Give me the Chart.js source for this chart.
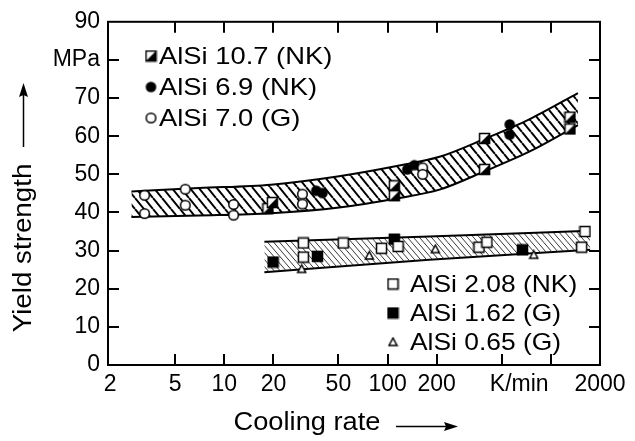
<!DOCTYPE html>
<html>
<head>
<meta charset="utf-8">
<script src="https://cdn.jsdelivr.net/npm/chart.js@4"></script>
<style>
  html, body { margin: 0; background: #fff; }
  #wrap { position: relative; width: 635px; height: 441px; }
</style>
</head>
<body>
<div id="wrap"><canvas id="c"></canvas></div>
<script>
// ---- data ----
const xTickValues = [2, 5, 10, 20, 50, 100, 200, 640, 2000];
const xTickLabels = ['2', '5', '10', '20', '50', '100', '200', 'K/min', '2000'];
const xTickMarks = [5, 10, 20, 50, 100, 200, 500, 1000];
const yTickValues = [0, 10, 20, 30, 40, 50, 60, 70, 80, 90];
const yTickLabels = ['0', '10', '20', '30', '40', '50', '60', '70', 'MPa', '90'];
const yTickMarks = [10, 20, 30, 40, 50, 60, 70, 80];

// scatter band (upper) – boundary lines
const upperBandX = [2.7, 7.0, 19.3, 50.5, 118, 208, 393, 743, 1465];
const upperBandTop = [45.5, 46.4, 47.3, 49.5, 52.3, 54.6, 59.3, 64.5, 71.3];
const upperBandBottom = [38.8, 39.2, 39.8, 41.3, 43.8, 46.0, 50.8, 56.0, 62.9];
// scatter band (lower)
const lowerBandX = [17.6, 180, 1740];
const lowerBandTop = [32.3, 33.7, 35.2];
const lowerBandBottom = [24.3, 27.6, 30.2];

const alsi107X = [18.5, 19.7, 110, 110, 393, 393, 1309, 1309];
const alsi107Y = [41.0, 42.6, 47.0, 44.4, 59.4, 51.3, 65.0, 61.9];
const alsi69X = [36.6, 39.9, 132, 146, 560, 560];
const alsi69Y = [45.7, 45.1, 51.3, 52.4, 63.1, 60.4];
const alsi70X = [3.25, 3.25, 5.77, 5.77, 11.4, 11.4, 30.1, 30.1, 164, 164];
const alsi70Y = [44.5, 39.7, 46.1, 41.9, 42.1, 39.3, 44.8, 42.2, 51.7, 50.0];
const alsi208X = [30.5, 30.5, 53.5, 91.8, 116, 363, 406, 1618, 1544];
const alsi208Y = [32.0, 28.3, 32.0, 30.6, 31.1, 30.9, 32.2, 35.0, 30.9];
const alsi162X = [19.9, 37.2, 110, 670];
const alsi162Y = [27.0, 28.5, 33.0, 30.2];
const alsi065X = [29.8, 77.3, 196, 786];
const alsi065Y = [25.2, 28.7, 30.4, 28.9];

const FONT = "'Liberation Sans', Arial, sans-serif";
const pts = (xs, ys) => xs.map((x, i) => ({ x, y: ys[i] }));

// ---- marker images ----
function marker(size, draw) {
  const c = document.createElement('canvas');
  c.width = c.height = size;
  const g = c.getContext('2d');
  g.lineWidth = 1.5;
  g.strokeStyle = '#000';
  g.fillStyle = '#000';
  draw(g, size);
  return c;
}
const mkHalfSquare = marker(13, g => {
  g.fillStyle = '#fff'; g.fillRect(1.5, 1.5, 10, 10);
  g.fillStyle = '#000';
  g.beginPath(); g.moveTo(1.5, 11.5); g.lineTo(11.5, 1.5); g.lineTo(11.5, 11.5); g.closePath(); g.fill();
  g.strokeRect(1.5, 1.5, 10, 10);
});
const mkDot = marker(13, g => { g.beginPath(); g.arc(6.5, 6.5, 5.3, 0, Math.PI * 2); g.fill(); });
const mkCircle = marker(13, g => {
  g.beginPath(); g.arc(6.5, 6.5, 4.8, 0, Math.PI * 2);
  g.fillStyle = '#fff'; g.fill(); g.stroke();
});
const mkSquare = marker(13, g => { g.fillStyle = '#fff'; g.fillRect(1.5, 1.5, 10, 10); g.strokeRect(1.5, 1.5, 10, 10); });
const mkFilledSquare = marker(13, g => { g.fillRect(1.5, 1.5, 10, 10); g.strokeRect(1.5, 1.5, 10, 10); });
const mkTriangle = marker(11, g => {
  g.beginPath(); g.moveTo(5.5, 1.5); g.lineTo(1.5, 9); g.lineTo(9.5, 9); g.closePath();
  g.fillStyle = '#fff'; g.fill(); g.stroke();
});

function hatch(w, h, lw, color) {
  const c = document.createElement('canvas');
  c.width = w; c.height = h;
  const g = c.getContext('2d');
  g.strokeStyle = color; g.lineWidth = lw;
  g.beginPath();
  for (const o of [-w, 0, w]) { g.moveTo(o, 0); g.lineTo(o + w, h); }
  g.stroke();
  return g.createPattern(c, 'repeat');
}

// text is a little wider than the plain font in the original
function wideText(ctx, text, x, y, sx, rot) {
  ctx.save();
  ctx.translate(x, y);
  if (rot) ctx.rotate(rot);
  ctx.scale(sx, 1);
  ctx.fillText(text, 0, 0);
  ctx.restore();
}

const bandLine = { borderColor: '#000', borderWidth: 2, pointRadius: 0, cubicInterpolationMode: 'monotone', order: 10 };
const scatter = (data, style) => ({ data, showLine: false, pointStyle: style, pointRadius: 5, order: 1 });

// ---- frame, inward ticks, axis titles, legends ----
const decor = {
  id: 'decor',
  afterDatasetsDraw(chart) {
    const { ctx, chartArea: a, scales: { x, y } } = chart;
    ctx.save();
    ctx.strokeStyle = '#000';
    ctx.lineWidth = 2;
    ctx.strokeRect(a.left, a.top, a.right - a.left, a.bottom - a.top);
    const TL = 11;
    ctx.beginPath();
    xTickMarks.forEach(v => {
      const px = Math.round(x.getPixelForValue(v));
      ctx.moveTo(px, a.bottom); ctx.lineTo(px, a.bottom - TL);
      ctx.moveTo(px, a.top); ctx.lineTo(px, a.top + TL);
    });
    yTickMarks.forEach(v => {
      const py = Math.round(y.getPixelForValue(v));
      ctx.moveTo(a.left, py); ctx.lineTo(a.left + TL, py);
      ctx.moveTo(a.right, py); ctx.lineTo(a.right - TL, py);
    });
    ctx.stroke();

    // axis titles with arrows
    ctx.fillStyle = '#000';
    ctx.font = '25px ' + FONT;
    ctx.textAlign = 'center';
    ctx.textBaseline = 'middle';
    wideText(ctx, 'Cooling rate', 307, 423, 1.09);
    wideText(ctx, 'Yield strength', 24, 248, 1.11, -Math.PI / 2);

    ctx.lineWidth = 1.5;
    ctx.beginPath(); ctx.moveTo(396, 426.5); ctx.lineTo(452, 426.5); ctx.stroke();
    ctx.beginPath(); ctx.moveTo(458, 426.5); ctx.lineTo(444, 422); ctx.lineTo(446, 426.5); ctx.lineTo(444, 431); ctx.closePath(); ctx.fill();
    ctx.beginPath(); ctx.moveTo(23.5, 147); ctx.lineTo(23.5, 90); ctx.stroke();
    ctx.beginPath(); ctx.moveTo(23.5, 83); ctx.lineTo(19, 97); ctx.lineTo(23.5, 95); ctx.lineTo(28, 97); ctx.closePath(); ctx.fill();

    // legends
    ctx.font = '24px ' + FONT;
    ctx.textAlign = 'left';
    const upper = [[mkHalfSquare, 'AlSi 10.7 (NK)'], [mkDot, 'AlSi 6.9 (NK)'], [mkCircle, 'AlSi 7.0 (G)']];
    upper.forEach(([img, label], i) => {
      const cy = 56 + i * 31;
      ctx.drawImage(img, 151 - img.width / 2, cy - img.height / 2);
      wideText(ctx, label, 159, cy + 1, 1.14);
    });
    const lower = [[mkSquare, 'AlSi 2.08 (NK)'], [mkFilledSquare, 'AlSi 1.62 (G)'], [mkTriangle, 'AlSi 0.65 (G)']];
    lower.forEach(([img, label], i) => {
      const cy = 284 + i * 29;
      ctx.drawImage(img, 393 - img.width / 2, cy - img.height / 2);
      wideText(ctx, label, 410, cy + 1, 1.1);
    });
    ctx.restore();
  }
};

new Chart(document.getElementById('c'), {
  type: 'line',
  data: {
    datasets: [
      { ...bandLine, data: pts(upperBandX, upperBandTop), fill: '+1', backgroundColor: hatch(9, 11, 2, '#000') },
      { ...bandLine, data: pts(upperBandX, upperBandBottom), fill: false },
      { ...bandLine, data: pts(lowerBandX, lowerBandTop), fill: '+1', backgroundColor: hatch(6, 7, 0.9, '#222') },
      { ...bandLine, data: pts(lowerBandX, lowerBandBottom), fill: false },
      scatter(pts(alsi70X, alsi70Y), mkCircle),
      scatter(pts(alsi69X, alsi69Y), mkDot),
      scatter(pts(alsi107X, alsi107Y), mkHalfSquare),
      scatter(pts(alsi208X, alsi208Y), mkSquare),
      scatter(pts(alsi162X, alsi162Y), mkFilledSquare),
      scatter(pts(alsi065X, alsi065Y), mkTriangle),
    ],
  },
  options: {
    responsive: true,
    maintainAspectRatio: false,
    animation: false,
    events: [],
    layout: { padding: { left: 0, right: 35, top: 20, bottom: 0 } },
    plugins: { legend: { display: false }, tooltip: { enabled: false } },
    scales: {
      x: {
        type: 'logarithmic',
        min: 1.94,
        max: 2000,
        grid: { display: false, drawTicks: false },
        border: { display: false },
        afterBuildTicks: s => { s.ticks = xTickValues.map(value => ({ value })); },
        afterFit: s => { s.height = 76; },
        ticks: {
          autoSkip: false,
          maxRotation: 0,
          padding: 6,
          color: '#000',
          font: { family: FONT, size: 23 },
          callback: (v, i) => xTickLabels[i],
        },
      },
      y: {
        min: 0,
        max: 90,
        grid: { display: false, drawTicks: false },
        border: { display: false },
        afterBuildTicks: s => { s.ticks = yTickValues.map(value => ({ value })); },
        afterFit: s => { s.width = 108; },
        ticks: {
          autoSkip: false,
          padding: 8,
          color: '#000',
          font: { family: FONT, size: 23 },
          callback: (v, i) => yTickLabels[i],
        },
      },
    },
  },
  plugins: [decor],
});
</script>
</body>
</html>
